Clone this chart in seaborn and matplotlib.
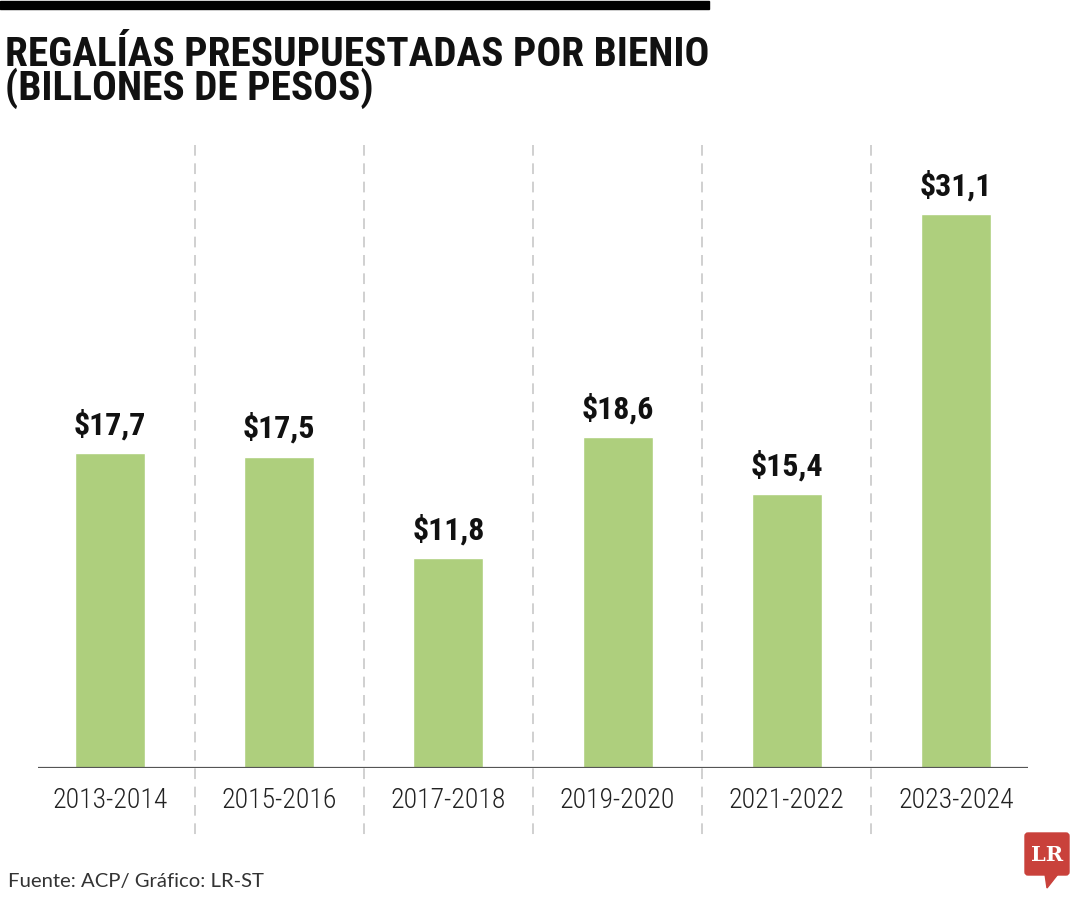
import matplotlib
matplotlib.use("Agg")
import matplotlib.pyplot as plt
import seaborn as sns
import pandas as pd
from matplotlib.patches import Rectangle, Polygon, FancyBboxPatch

categories = ["2013-2014", "2015-2016", "2017-2018", "2019-2020", "2021-2022", "2023-2024"]
values = [17.7, 17.5, 11.8, 18.6, 15.4, 31.1]
value_labels = ["$17,7", "$17,5", "$11,8", "$18,6", "$15,4", "$31,1"]
title_lines = ["REGALÍAS PRESUPUESTADAS POR BIENIO", "(BILLONES DE PESOS)"]
source = "Fuente: ACP/ Gráfico: LR-ST"

sns.set_theme(style="white")
COND = ['Roboto Condensed', 'Roboto', 'DejaVu Sans']
plt.rcParams['font.family'] = COND

W, H = 1080, 900
fig = plt.figure(figsize=(W / 100, H / 100), dpi=100)
fig.patch.set_facecolor("white")

# overlay axes in pixel coordinates for decorations
ov = fig.add_axes([0, 0, 1, 1])
ov.set_xlim(0, W)
ov.set_ylim(H, 0)
ov.axis("off")

ax = fig.add_axes([38 / W, 132 / H, 990 / W, 623 / H])
ax.set_facecolor("none")
df = pd.DataFrame({"cat": categories, "val": values})
sns.barplot(data=df, x="cat", y="val", color="#aecf7d", saturation=1,
            width=0.414, ax=ax, zorder=3)
ax.set_xlim(-0.426, 5.426)
ax.set_ylim(0, 35)
for s in ax.spines.values():
    s.set_visible(False)
ax.set_yticks([])
ax.set_xlabel("")
ax.set_ylabel("")
ax.axhline(0, color="#555555", lw=1.6, zorder=4)

# dashed separators
for i in range(len(categories) - 1):
    ax.plot([i + 0.5, i + 0.5], [35, -3.8], color="#c4c4c4", lw=1.1,
            ls=(0, (7, 5)), clip_on=False, zorder=1)

ax.set_xticks(range(len(categories)))
ax.set_xticklabels(categories, fontsize=20, color="#222222", fontweight="light")
ax.tick_params(axis="x", length=0, pad=14)

for i, (v, lab) in enumerate(zip(values, value_labels)):
    ax.annotate(lab, (i, v), xytext=(0, 9), textcoords="offset points",
                ha="center", va="bottom", fontsize=23, fontweight="bold",
                color="#111111")

# top black bar
ov.add_patch(Rectangle((0, 1), 709, 8, color="black"))

# title (one text, two lines)
ov.text(5, 100, "\n".join(title_lines), fontsize=29.7, fontweight="bold",
        color="#111111", va="baseline", ha="left", linespacing=0.8)

# footer
ov.text(8, 881, source, fontsize=14.6, color="#333333", va="center", ha="left",
        family=['Lato', 'DejaVu Sans'])

# logo
red = "#c9413b"
ov.add_patch(FancyBboxPatch((1025, 833), 44, 42, boxstyle="round,pad=0,rounding_size=3",
                            color=red))
ov.add_patch(Polygon([[1045, 874], [1058, 874], [1047, 888]], color=red))
ov.text(1047, 855, "LR", fontsize=15, fontweight="bold", color="white",
        ha="center", va="center", family=['DejaVu Serif'])

fig.savefig("out.png", dpi=100)
